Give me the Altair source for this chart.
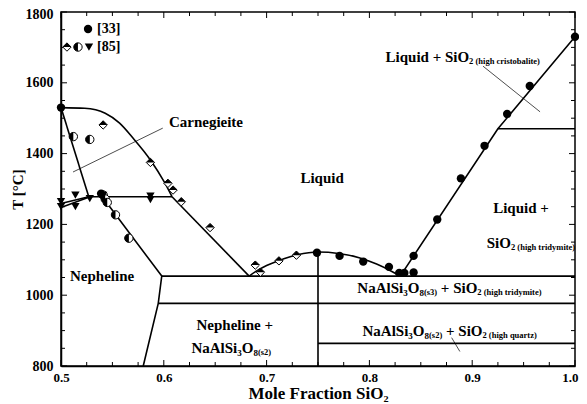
import altair as alt
import pandas as pd

FONT = "Liberation Serif"

# ---------------- data ----------------
# Reference [33] : filled circles
r33_x = [0.500, 0.539, 0.749, 0.771, 0.794, 0.819, 0.829, 0.834, 0.843, 0.843, 0.866, 0.889, 0.912, 0.934, 0.956, 1.000]
r33_T = [1530, 1287, 1120, 1111, 1095, 1080, 1063, 1063, 1064, 1111, 1214, 1330, 1422, 1512, 1591, 1730]

# Reference [85] : half-filled circles
r85c_x = [0.512, 0.528, 0.541, 0.543, 0.545, 0.553, 0.566]
r85c_T = [1448, 1440, 1283, 1272, 1262, 1227, 1161]
# Reference [85] : half-filled diamonds
r85d_x = [0.541, 0.587, 0.604, 0.609, 0.617, 0.645, 0.689, 0.694, 0.712, 0.729]
r85d_T = [1481, 1375, 1316, 1297, 1264, 1191, 1085, 1065, 1097, 1113]
# Reference [85] : down triangles
r85t_x = [0.500, 0.500, 0.514, 0.514, 0.528, 0.541, 0.587, 0.587]
r85t_T = [1264, 1250, 1283, 1250, 1273, 1282, 1280, 1270]

# phase boundaries (straight segments)
straight = {
    "carn_sol": ([0.500, 0.527], [1530, 1278]),
    "h1278": ([0.527, 0.608], [1278, 1278]),
    "neph": ([0.5396, 0.598, 0.5946, 0.580], [1280, 1054, 977, 800]),
    "liq_left": ([0.608, 0.683], [1278, 1054]),
    "liq_right": ([0.830, 0.925, 1.000], [1054, 1470, 1730]),
    "h1470": ([0.925, 1.000], [1470, 1470]),
    "h1054": ([0.598, 1.000], [1054, 1054]),
    "h977": ([0.5946, 1.000], [977, 977]),
    "h864": ([0.750, 1.000], [864, 864]),
    "v075": ([0.750, 0.750], [1122, 800]),
    "lens_a": ([0.500, 0.527], [1259, 1278]),
    "lens_b": ([0.500, 0.527], [1248, 1277]),
}
# curved boundaries
carn_x = [0.500, 0.523, 0.543, 0.557, 0.570, 0.587, 0.601, 0.608]
carn_T = [1530, 1528, 1514, 1486, 1444, 1382, 1317, 1278]
arc_x = [0.683, 0.690, 0.700, 0.716, 0.730, 0.750, 0.770, 0.790, 0.807, 0.820, 0.830]
arc_T = [1054, 1068, 1084, 1102, 1114, 1122, 1118, 1106, 1088, 1070, 1054]
# thin leader lines
leaders = {
    "carn": ([0.5117, 0.599], [1348, 1472]),
    "crist": ([0.9105, 0.966], [1647, 1518]),
    "quartz": ([0.880, 0.888], [880, 841]),
}

# legend
leg_x = [0.5263, 0.5058, 0.5165, 0.5272]
leg_T = [1752, 1701, 1701, 1701]

# axis tick positions
x_major = [0.5, 0.6, 0.7, 0.8, 0.9, 1.0]
x_minor = [0.525, 0.55, 0.575, 0.625, 0.65, 0.675, 0.725, 0.75, 0.775,
           0.825, 0.85, 0.875, 0.925, 0.95, 0.975]
y_major = [800, 1000, 1200, 1400, 1600, 1800]
y_minor = [850, 900, 950, 1050, 1100, 1150, 1250, 1300, 1350, 1450, 1500,
           1550, 1650, 1700, 1750]

# ---------------- chart ----------------
W, H = 514, 354
xs = alt.Scale(domain=[0.5, 1.0], nice=False, zero=False)
ys = alt.Scale(domain=[800, 1800], nice=False, zero=False)

xaxis = alt.Axis(values=x_major, format=".1f", ticks=False, grid=False,
                 labelFont=FONT, labelFontWeight="bold", labelFontSize=13,
                 labelColor="black", labelPadding=5, labelFlush=False,
                 labelAlign={"expr": "datum.value >= 1 ? 'right' : 'center'"},
                 labelOffset={"expr": "datum.value >= 1 ? 3 : 0"},
                 labelOverlap=False, domainColor="black", domainWidth=1.5,
                 title="Mole Fraction SiO₂", titleFont=FONT, titleFontSize=17,
                 titleFontWeight="bold", titleColor="black",
                 titleBaseline="alphabetic", titleY=32)
yaxis = alt.Axis(values=y_major, format="d", ticks=False, grid=False,
                 labelFont=FONT, labelFontWeight="bold", labelFontSize=14,
                 labelColor="black", labelPadding=8, labelFlush=False,
                 labelOffset={"expr": "datum.value >= 1800 ? 2 : 0"},
                 labelOverlap=False, domainColor="black", domainWidth=1.5,
                 title="T [°C]", titleFont=FONT, titleFontSize=15,
                 titleFontWeight="bold", titleColor="black",
                 titleBaseline="middle", titleX=-44)


def X():
    return alt.X("x:Q", scale=xs, axis=xaxis)


def Y():
    return alt.Y("T:Q", scale=ys, axis=yaxis)


def seg_df(d):
    rows = []
    for name, (xx, tt) in d.items():
        for i, (a, b) in enumerate(zip(xx, tt)):
            rows.append({"seg": name, "i": i, "x": a, "T": b})
    return pd.DataFrame(rows)


def pts(xx, tt):
    return pd.DataFrame({"x": xx, "T": tt})


layers = []


def xticks(vals, L):
    d = pd.DataFrame({"x": vals})
    b = alt.Chart(d).mark_rule(color="black", strokeWidth=1).encode(
        x=X(), y=alt.value(H), y2=alt.value(H - L))
    t = alt.Chart(d).mark_rule(color="black", strokeWidth=1).encode(
        x=X(), y=alt.value(0), y2=alt.value(L))
    return [b, t]


def yticks(vals, L):
    d = pd.DataFrame({"T": vals})
    l = alt.Chart(d).mark_rule(color="black", strokeWidth=1).encode(
        y=Y(), x=alt.value(0), x2=alt.value(L))
    r = alt.Chart(d).mark_rule(color="black", strokeWidth=1).encode(
        y=Y(), x=alt.value(W), x2=alt.value(W - L))
    return [l, r]


layers += xticks(x_major, 6) + xticks(x_minor, 4)
layers += yticks(y_major, 6) + yticks(y_minor, 4)

# boundaries
layers.append(alt.Chart(seg_df(straight)).mark_line(color="black", strokeWidth=1.6).encode(
    x=X(), y=Y(), detail="seg:N", order="i:Q"))
curves = {"carn": (carn_x, carn_T), "arc": (arc_x, arc_T)}
layers.append(alt.Chart(seg_df(curves)).mark_line(color="black", strokeWidth=1.6,
                                                   interpolate="monotone").encode(
    x=X(), y=Y(), detail="seg:N", order="i:Q"))
layers.append(alt.Chart(seg_df(leaders)).mark_line(color="black", strokeWidth=0.7).encode(
    x=X(), y=Y(), detail="seg:N", order="i:Q"))

SZ = 70
HALF_CIRCLE = "M0,-1A1,1 0 0,0 0,1Z"
HALF_DIAMOND = "M-1,0L0,-1L1,0Z"

circ_df = pts(r33_x + leg_x[:1], r33_T + leg_T[:1])
hc_df = pts(r85c_x + leg_x[2:3], r85c_T + leg_T[2:3])
dm_df = pts(r85d_x + leg_x[1:2], r85d_T + leg_T[1:2])
tr_df = pts(r85t_x + leg_x[3:4], r85t_T + leg_T[3:4])

layers.append(alt.Chart(dm_df).mark_point(shape="diamond", filled=True, fill="white",
                                          stroke="black", strokeWidth=1, size=SZ, opacity=1).encode(x=X(), y=Y()))
layers.append(alt.Chart(dm_df).mark_point(shape=HALF_DIAMOND, filled=True, color="black",
                                          size=SZ, opacity=1).encode(x=X(), y=Y()))
layers.append(alt.Chart(hc_df).mark_point(shape="circle", filled=True, fill="white",
                                          stroke="black", strokeWidth=1, size=SZ, opacity=1).encode(x=X(), y=Y()))
layers.append(alt.Chart(hc_df).mark_point(shape=HALF_CIRCLE, filled=True, color="black",
                                          size=SZ, opacity=1).encode(x=X(), y=Y()))
layers.append(alt.Chart(tr_df).mark_point(shape="triangle-down", filled=True, color="black",
                                          size=SZ, opacity=1).encode(x=X(), y=Y()))
layers.append(alt.Chart(circ_df).mark_point(shape="circle", filled=True, color="black",
                                            size=SZ, opacity=1).encode(x=X(), y=Y()))

# ---------------- text ----------------
MAIN, SMALL = 15, 8.5
txt_center = pd.DataFrame([
    {"x": 0.641, "T": 1489, "text": "Carnegieite"},
    {"x": 0.754, "T": 1331, "text": "Liquid"},
    {"x": 0.9475, "T": 1246, "text": "Liquid +"},
    {"x": 0.540, "T": 1054, "text": "Nepheline"},
    {"x": 0.669, "T": 916, "text": "Nepheline +"},
])
txt_right = pd.DataFrame([
    {"x": 0.897, "T": 1673, "text": "Liquid + SiO"},
    {"x": 0.9377, "T": 1147, "text": "SiO"},
    {"x": 0.6916, "T": 851, "text": "NaAlSi₃O₈"},
    {"x": 0.853, "T": 1020, "text": "NaAlSi₃O₈"},
    {"x": 0.905, "T": 1020, "text": "+ SiO"},
    {"x": 0.858, "T": 899, "text": "NaAlSi₃O₈"},
    {"x": 0.910, "T": 899, "text": "+ SiO"},
])
txt_small = pd.DataFrame([
    {"x": 0.897, "T": 1673, "text": "2 (high cristobalite)"},
    {"x": 0.9377, "T": 1147, "text": "2 (high tridymite)"},
    {"x": 0.6916, "T": 851, "text": " (s2)"},
    {"x": 0.853, "T": 1020, "text": " (s3)"},
    {"x": 0.905, "T": 1020, "text": "2 (high tridymite)"},
    {"x": 0.858, "T": 899, "text": " (s2)"},
    {"x": 0.910, "T": 899, "text": "2 (high quartz)"},
])
txt_leg = pd.DataFrame([
    {"x": 0.535, "T": 1752, "text": "[33]"},
    {"x": 0.535, "T": 1701, "text": "[85]"},
])


def text_layer(df, align, size, dy=0):
    return alt.Chart(df).mark_text(align=align, baseline="middle", font=FONT,
                                   fontWeight="bold", fontSize=size, dy=dy,
                                   color="black").encode(x=X(), y=Y(), text="text:N")


layers += [text_layer(txt_center, "center", MAIN),
           text_layer(txt_right, "right", MAIN),
           text_layer(txt_small, "left", SMALL, dy=4),
           text_layer(txt_leg, "left", 14)]

chart = alt.layer(*layers).properties(
    width=W, height=H, autosize="none",
    padding={"left": 53, "top": 4, "right": 4, "bottom": 40},
    background="white",
).configure_view(stroke="black", strokeWidth=1.5)

chart.save("out.html", embed_options={"renderer": "svg", "actions": False})
